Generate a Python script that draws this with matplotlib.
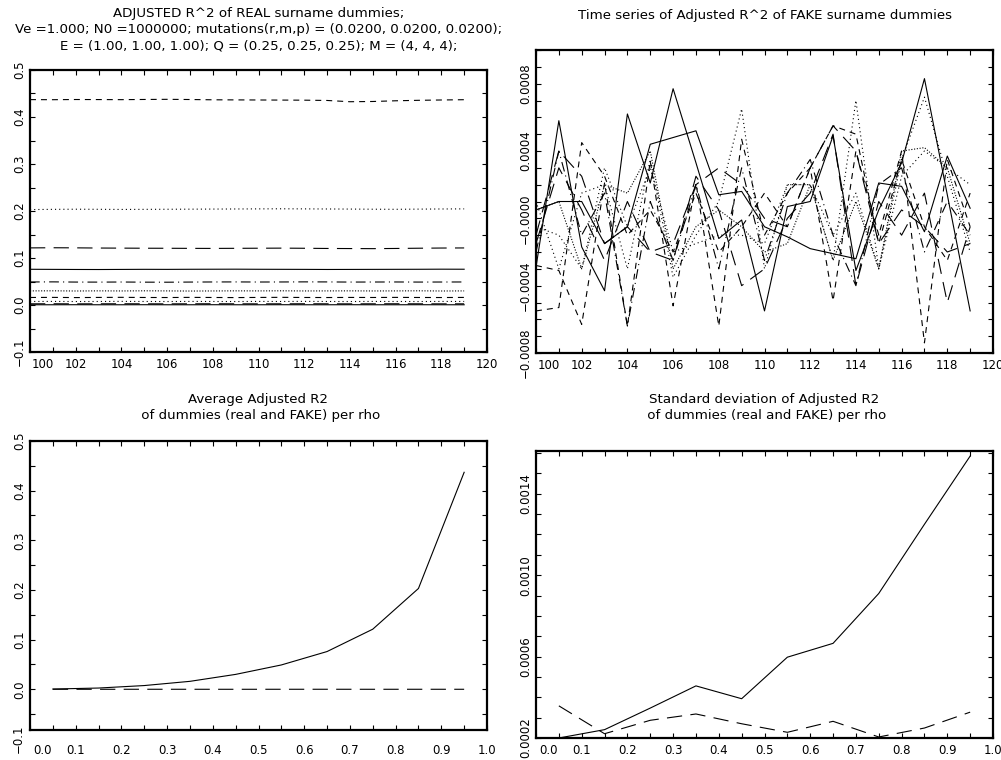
import matplotlib
matplotlib.use('Agg')
import matplotlib.pyplot as plt
from matplotlib.ticker import MultipleLocator
from matplotlib.transforms import ScaledTranslation

plt.rcParams['font.family'] = ['DejaVu Sans']
plt.rcParams['font.size'] = 8.5
plt.rcParams['lines.scale_dashes'] = False
plt.rcParams['axes.unicode_minus'] = True

# ---------------- data ----------------
years = [100, 101, 102, 103, 104, 105, 106, 107, 108, 109,
         110, 111, 112, 113, 114, 115, 116, 117, 118, 119]
rho = [0.05, 0.15, 0.25, 0.35, 0.45, 0.55, 0.65, 0.75, 0.85, 0.95]

# adjusted R^2 of REAL surname dummies, one series per rho
real_r05 = [0.0005, 0.0005, 0.0006, 0.0005, 0.0005, 0.0006, 0.0005, 0.0005, 0.0006, 0.0005,
            0.0005, 0.0006, 0.0005, 0.0005, 0.0006, 0.0005, 0.0005, 0.0006, 0.0005, 0.0005]
real_r15 = [0.0025, 0.0026, 0.0024, 0.0025, 0.0026, 0.0025, 0.0024, 0.0025, 0.0026, 0.0025,
            0.0024, 0.0025, 0.0026, 0.0025, 0.0024, 0.0025, 0.0026, 0.0025, 0.0024, 0.0025]
real_r25 = [0.0075, 0.0076, 0.0074, 0.0075, 0.0077, 0.0075, 0.0074, 0.0076, 0.0075, 0.0074,
            0.0076, 0.0075, 0.0077, 0.0075, 0.0074, 0.0076, 0.0075, 0.0074, 0.0076, 0.0075]
real_r35 = [0.0160, 0.0162, 0.0158, 0.0161, 0.0163, 0.0160, 0.0159, 0.0162, 0.0160, 0.0158,
            0.0161, 0.0163, 0.0160, 0.0159, 0.0161, 0.0160, 0.0162, 0.0160, 0.0159, 0.0161]
real_r45 = [0.0300, 0.0302, 0.0298, 0.0301, 0.0299, 0.0302, 0.0300, 0.0297, 0.0299, 0.0301,
            0.0300, 0.0302, 0.0299, 0.0300, 0.0301, 0.0299, 0.0300, 0.0302, 0.0298, 0.0300]
real_r55 = [0.0490, 0.0492, 0.0488, 0.0487, 0.0489, 0.0486, 0.0485, 0.0488, 0.0490, 0.0491,
            0.0489, 0.0490, 0.0492, 0.0491, 0.0488, 0.0489, 0.0490, 0.0488, 0.0489, 0.0490]
real_r65 = [0.0760, 0.0758, 0.0756, 0.0755, 0.0757, 0.0759, 0.0758, 0.0760, 0.0761, 0.0762,
            0.0760, 0.0759, 0.0758, 0.0756, 0.0757, 0.0758, 0.0759, 0.0760, 0.0762, 0.0761]
real_r75 = [0.1215, 0.1218, 0.1216, 0.1212, 0.1210, 0.1208, 0.1207, 0.1205, 0.1204, 0.1206,
            0.1208, 0.1210, 0.1207, 0.1203, 0.1201, 0.1199, 0.1203, 0.1208, 0.1212, 0.1214]
real_r85 = [0.2030, 0.2035, 0.2038, 0.2036, 0.2033, 0.2035, 0.2037, 0.2039, 0.2041, 0.2043,
            0.2045, 0.2047, 0.2045, 0.2043, 0.2041, 0.2038, 0.2036, 0.2040, 0.2043, 0.2045]
real_r95 = [0.4370, 0.4368, 0.4372, 0.4371, 0.4369, 0.4373, 0.4376, 0.4372, 0.4366, 0.4364,
            0.4362, 0.4360, 0.4358, 0.4352, 0.4325, 0.4330, 0.4345, 0.4355, 0.4362, 0.4368]
real_series = [real_r05, real_r15, real_r25, real_r35, real_r45,
               real_r55, real_r65, real_r75, real_r85, real_r95]

# adjusted R^2 of FAKE surname dummies, one series per rho
fake_r05 = [-0.00029, 0.00058, -0.00017, -0.00043, 0.00062, 0.00021, 0.00077, 0.00033, -0.00012, -0.00001,
            -0.00055, 0.00007, 0.00010, 0.00049, -0.00031, 0.00005, 0.00033, 0.00083, 0.00014, -0.00055]
fake_r15 = [-0.00010, 0.00040, 0.00025, -0.00015, -0.00005, -0.00020, -0.00015, 0.00020, 0.00030, 0.00020,
            0.00000, -0.00005, 0.00030, 0.00055, 0.00040, -0.00015, 0.00005, -0.00005, -0.00020, -0.00015]
fake_r25 = [0.00010, -0.00030, 0.00015, 0.00020, -0.00030, 0.00035, -0.00035, -0.00010, 0.00010, 0.00065,
            -0.00030, 0.00020, 0.00020, -0.00025, 0.00070, -0.00030, 0.00035, 0.00072, 0.00025, -0.00020]
fake_r35 = [-0.00028, -0.00031, -0.00063, 0.00021, -0.00064, 0.00034, -0.00052, 0.00021, -0.00064, 0.00047,
            -0.00010, 0.00015, 0.00030, -0.00049, 0.00040, -0.00010, 0.00040, -0.00074, 0.00035, -0.00005]
fake_r45 = [0.00005, 0.00010, -0.00030, 0.00020, 0.00015, 0.00040, -0.00030, -0.00005, 0.00005, -0.00005,
            -0.00020, -0.00015, 0.00020, -0.00025, 0.00010, -0.00030, 0.00040, 0.00042, 0.00030, -0.00015]
fake_r55 = [-0.00020, 0.00040, -0.00010, 0.00015, -0.00064, 0.00010, -0.00025, 0.00020, -0.00030, 0.00030,
            -0.00025, 0.00015, 0.00035, -0.00010, -0.00040, 0.00020, 0.00030, -0.00020, 0.00010, -0.00010]
fake_r65 = [0.00005, 0.00010, 0.00010, -0.00015, -0.00005, 0.00044, 0.00048, 0.00052, 0.00014, 0.00016,
            -0.00005, -0.00011, -0.00018, -0.00021, -0.00024, 0.00021, 0.00019, -0.00008, 0.00037, 0.00006]
fake_r75 = [-0.00015, 0.00030, 0.00005, -0.00025, 0.00010, -0.00020, -0.00025, 0.00025, 0.00005, -0.00040,
            -0.00030, 0.00000, 0.00015, 0.00050, -0.00040, 0.00010, -0.00010, 0.00015, -0.00050, -0.00005]
fake_r85 = [-0.00005, -0.00010, -0.00030, 0.00030, -0.00005, 0.00030, -0.00020, -0.00015, -0.00010, -0.00010,
            -0.00015, 0.00020, 0.00020, -0.00010, 0.00015, -0.00030, 0.00025, 0.00040, 0.00030, 0.00020]
fake_r95 = [-0.00055, -0.00053, 0.00045, 0.00025, -0.00010, 0.00005, -0.00020, 0.00015, -0.00020, -0.00005,
            0.00015, -0.00005, 0.00030, 0.00055, 0.00050, -0.00015, 0.00035, -0.00005, -0.00025, 0.00015]
fake_series = [fake_r05, fake_r15, fake_r25, fake_r35, fake_r45,
               fake_r55, fake_r65, fake_r75, fake_r85, fake_r95]

# averages and standard deviations per rho
avg_real = [0.0005, 0.0025, 0.0075, 0.0160, 0.0300, 0.0490, 0.0760, 0.1210, 0.2030, 0.4370]
avg_fake = [0.00002, -0.00001, 0.00003, 0.00001, -0.00002, 0.00002, 0.00004, -0.00001, 0.00002, 0.00001]
sd_real = [0.000200, 0.000241, 0.000347, 0.000456, 0.000393, 0.000597, 0.000665, 0.000910, 0.001250, 0.001585]
sd_fake = [0.000358, 0.000221, 0.000287, 0.000318, 0.000270, 0.000228, 0.000282, 0.000205, 0.000249, 0.000327]

# ---------------- styles ----------------
base_styles = ['-', (0, (11, 6)), (0, (0.8, 2.2)), (0, (4.3, 3.6)), (0, (0.8, 1.2)), (0, (7, 3, 0.8, 3))]
line_styles = [base_styles[i % 6] for i in range(10)]
LW = 0.8
TITLE_FS = 9.6

W, H = 1001, 760
fig = plt.figure(figsize=(W / 100, H / 100), dpi=100)


def box(l, r, t, b):
    return [l / W, 1 - b / H, (r - l) / W, (b - t) / H]


ax1 = fig.add_axes(box(30, 487, 70, 352))
ax2 = fig.add_axes(box(536, 993, 50, 353))
ax3 = fig.add_axes(box(30, 487, 441, 730))
ax4 = fig.add_axes(box(536, 993, 451, 738))


def style_axes(ax, xpad=4.0):
    for s in ax.spines.values():
        s.set_linewidth(1.6)
    ax.tick_params(which='both', direction='in', top=True, right=True,
                   length=3.6, width=0.8, colors='black')
    ax.tick_params(axis='x', which='major', pad=xpad)
    ax.tick_params(axis='y', which='major', pad=3.0)
    for lab in ax.get_yticklabels():
        lab.set_rotation(90)
        lab.set_va('center')


def shift_first_xlabel(ax, dx_px=13):
    t = ax.xaxis.get_major_ticks()[0]
    t.label1.set_transform(t.label1.get_transform() +
                           ScaledTranslation(dx_px / 100, 0, fig.dpi_scale_trans))


# ---- panel 1: real series
for s, ls in zip(real_series, line_styles):
    ax1.plot(years, s, color='black', lw=LW, ls=ls)
ax1.set_xlim(100, 120)
ax1.set_ylim(-0.1, 0.5)
ax1.set_xticks([100, 102, 104, 106, 108, 110, 112, 114, 116, 118, 120])
ax1.xaxis.set_minor_locator(MultipleLocator(1))
ax1.set_yticks([-0.1, 0.0, 0.1, 0.2, 0.3, 0.4, 0.5])
ax1.set_yticklabels(['\u22120.1', '0.0', '0.1', '0.2', '0.3', '0.4', '0.5'])
ax1.yaxis.set_minor_locator(MultipleLocator(0.05))
style_axes(ax1)
shift_first_xlabel(ax1)

title1 = ['ADJUSTED R^2 of REAL surname dummies;',
          'Ve =1.000; N0 =1000000; mutations(r,m,p) = (0.0200, 0.0200, 0.0200);',
          'E = (1.00, 1.00, 1.00); Q = (0.25, 0.25, 0.25); M = (4, 4, 4);']
for yy, line in zip([14, 30, 46], title1):
    fig.text(258.5 / W, 1 - yy / H, line, ha='center', va='center', fontsize=TITLE_FS)

# ---- panel 2: fake series
for s, ls in zip(fake_series, line_styles):
    ax2.plot(years, s, color='black', lw=LW, ls=ls)
ax2.set_xlim(100, 120)
ax2.set_ylim(-0.0008, 0.001)
ax2.set_xticks([100, 102, 104, 106, 108, 110, 112, 114, 116, 118, 120])
ax2.xaxis.set_minor_locator(MultipleLocator(1))
ax2.set_yticks([-0.0008, -0.0004, 0.0, 0.0004, 0.0008])
ax2.set_yticklabels(['\u22120.0008', '\u22120.0004', '\u22120.0000', '0.0004', '0.0008'])
ax2.yaxis.set_minor_locator(MultipleLocator(0.0001))
style_axes(ax2)
shift_first_xlabel(ax2)
fig.text(764.5 / W, 1 - 15 / H, 'Time series of Adjusted R^2 of FAKE surname dummies',
         ha='center', va='center', fontsize=TITLE_FS)

# ---- panel 3: averages
ax3.plot(rho, avg_real, color='black', lw=LW, ls='-')
ax3.plot(rho, avg_fake, color='black', lw=LW, ls=(0, (11, 6)))
ax3.set_xlim(0.0, 1.0)
ax3.set_ylim(-0.082, 0.5)
ax3.set_xticks([0.0, 0.1, 0.2, 0.3, 0.4, 0.5, 0.6, 0.7, 0.8, 0.9, 1.0])
ax3.set_xticklabels(['0.0', '0.1', '0.2', '0.3', '0.4', '0.5', '0.6', '0.7', '0.8', '0.9', '1.0'])
ax3.xaxis.set_minor_locator(MultipleLocator(0.05))
ax3.set_yticks([0.0, 0.1, 0.2, 0.3, 0.4, 0.5])
ax3.set_yticklabels(['0.0', '0.1', '0.2', '0.3', '0.4', '0.5'])
ax3.yaxis.set_minor_locator(MultipleLocator(0.05))
style_axes(ax3, xpad=10.0)
shift_first_xlabel(ax3)
ax3.text(-5 / 457, -0.1, '\u22120.1', transform=ax3.get_yaxis_transform(),
         rotation=90, ha='right', va='center')
for yy, line in zip([400, 416], ['Average Adjusted R2', ' of dummies (real and FAKE) per rho']):
    fig.text(258.5 / W, 1 - yy / H, line, ha='center', va='center', fontsize=TITLE_FS)

# ---- panel 4: standard deviations
ax4.plot(rho, sd_real, color='black', lw=LW, ls='-')
ax4.plot(rho, sd_fake, color='black', lw=LW, ls=(0, (11, 6)))
ax4.set_xlim(0.0, 1.0)
ax4.set_ylim(0.0002, 0.00161)
ax4.set_xticks([0.0, 0.1, 0.2, 0.3, 0.4, 0.5, 0.6, 0.7, 0.8, 0.9, 1.0])
ax4.set_xticklabels(['0.0', '0.1', '0.2', '0.3', '0.4', '0.5', '0.6', '0.7', '0.8', '0.9', '1.0'])
ax4.xaxis.set_minor_locator(MultipleLocator(0.05))
ax4.set_yticks([0.0002, 0.0006, 0.0010, 0.0014])
ax4.set_yticklabels(['0.0002', '0.0006', '0.0010', '0.0014'])
ax4.yaxis.set_minor_locator(MultipleLocator(0.0001))
style_axes(ax4)
shift_first_xlabel(ax4)
for yy, line in zip([400, 416], ['Standard deviation of Adjusted R2', ' of dummies (real and FAKE) per rho']):
    fig.text(764.5 / W, 1 - yy / H, line, ha='center', va='center', fontsize=TITLE_FS)

fig.savefig('out.png', dpi=100, facecolor='white')
